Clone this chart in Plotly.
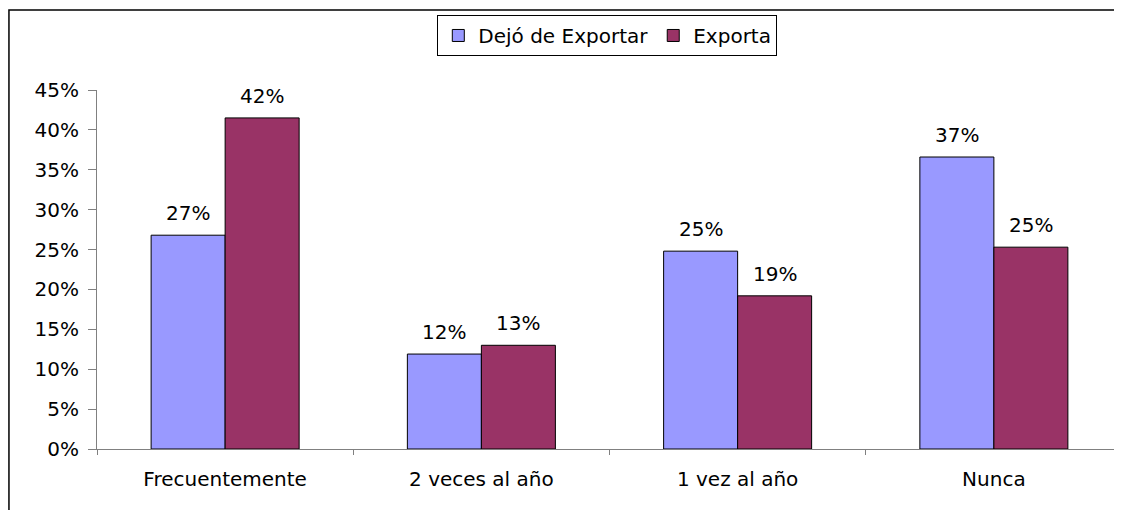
import plotly.graph_objects as go

categories = ["Frecuentemente", "2 veces al año", "1 vez al año", "Nunca"]
dejo_exportar = [26.8, 11.9, 24.8, 36.6]
exporta = [41.5, 13.0, 19.2, 25.3]

FONT = "DejaVu Sans, Arial, sans-serif"
SIZE = 20

fig = go.Figure()
fig.add_trace(
    go.Bar(
        x=categories,
        y=dejo_exportar,
        name="Dejó de Exportar",
        marker=dict(color="#9999FF", line=dict(color="black", width=1)),
    )
)
fig.add_trace(
    go.Bar(
        x=categories,
        y=exporta,
        name="Exporta",
        marker=dict(color="#993366", line=dict(color="black", width=1)),
    )
)

# value labels sit a bit higher above the bars than plotly's own outside text
for series, shift in ((dejo_exportar, -37), (exporta, 37)):
    for cat, val in zip(categories, series):
        fig.add_annotation(
            x=cat, y=val, text=f"{val:.0f}%", showarrow=False,
            xshift=shift, yshift=8, yanchor="bottom",
            font=dict(family=FONT, size=SIZE, color="black"),
        )

# outer chart frame (runs off the right/bottom edge in the original)
fig.add_shape(
    type="rect", xref="paper", yref="paper",
    x0=-0.0859, x1=1.05, y0=-0.3, y1=1.2228,
    line=dict(color="black", width=1.5), fillcolor="rgba(0,0,0,0)",
)

# page body has an 8px margin, so the figure is sized to fit the window
fig.update_layout(
    width=1114,
    height=502,
    margin=dict(l=89, r=0, t=82, b=61),
    paper_bgcolor="white",
    plot_bgcolor="white",
    font=dict(family=FONT, size=SIZE, color="black"),
    barmode="group",
    bargap=0.4224,
    bargroupgap=0,
    showlegend=True,
    legend=dict(
        orientation="h",
        x=0.332, y=1.209, xanchor="left", yanchor="top",
        bordercolor="black", borderwidth=1,
        font=dict(size=SIZE),
        itemwidth=30,
        tracegroupgap=0,
    ),
    xaxis=dict(
        showline=True, linecolor="#808080", linewidth=1,
        ticks="outside", tickson="boundaries", ticklen=5, tickcolor="#808080",
        ticklabelstandoff=12,
    ),
    yaxis=dict(
        range=[0, 45], dtick=5, ticksuffix="%",
        showline=True, linecolor="#808080", linewidth=1,
        ticks="outside", ticklen=8, tickcolor="#808080",
        ticklabelstandoff=5,
        showgrid=False, zeroline=False,
    ),
)

fig.write_html("out.html")
